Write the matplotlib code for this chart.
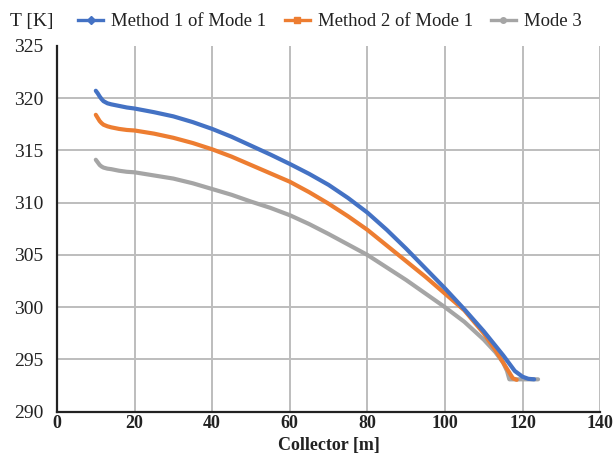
import matplotlib
matplotlib.use("Agg")
import matplotlib.pyplot as plt
from matplotlib.lines import Line2D

# ---- data ----
x_m1 = [10, 10.5, 11, 11.5, 12, 13, 14, 16, 18, 20, 25, 30, 35, 40, 45, 50, 55, 60, 65, 70,
        75, 80, 85, 90, 95, 100, 105, 110, 115, 118, 120, 121.5, 123]
t_m1 = [320.7, 320.45, 320.15, 319.9, 319.7, 319.5, 319.4, 319.25, 319.1, 319.0, 318.65, 318.25,
        317.7, 317.05, 316.3, 315.45, 314.6, 313.7, 312.75, 311.7, 310.45, 309.05, 307.4, 305.6,
        303.7, 301.8, 299.8, 297.7, 295.4, 293.9, 293.35, 293.15, 293.1]

x_m2 = [10, 10.5, 11, 11.5, 12, 13, 14, 16, 18, 20, 25, 30, 35, 40, 45, 50, 55, 60, 65, 70,
        75, 80, 85, 90, 95, 100, 105, 110, 113, 116, 117.5, 118.5]
t_m2 = [318.4, 318.1, 317.8, 317.6, 317.45, 317.3, 317.2, 317.05, 316.95, 316.9, 316.6, 316.2,
        315.7, 315.1, 314.4, 313.6, 312.8, 312.0, 311.0, 309.9, 308.7, 307.4, 305.9, 304.4,
        302.9, 301.3, 299.7, 297.5, 295.9, 294.1, 293.2, 293.05]

x_m3 = [10, 10.5, 11, 11.5, 12, 13, 14, 16, 18, 20, 25, 30, 35, 40, 45, 50, 55, 60, 65, 70,
        75, 80, 85, 90, 95, 100, 105, 110, 113, 115, 116, 116.6, 124]
t_m3 = [314.1, 313.85, 313.6, 313.45, 313.35, 313.25, 313.2, 313.05, 312.95, 312.9, 312.6,
        312.3, 311.85, 311.3, 310.75, 310.1, 309.5, 308.8, 307.95, 307.0, 306.0, 305.0, 303.8,
        302.6, 301.3, 300.0, 298.6, 296.9, 295.7, 294.7, 293.9, 293.1, 293.1]

labels = ["Method 1 of Mode 1", "Method 2 of Mode 1", "Mode 3"]
colors = ["#4472C4", "#ED7D31", "#A5A5A5"]
markers = ["D", "s", "o"]
x_ticks = [0, 20, 40, 60, 80, 100, 120, 140]
y_ticks = [290, 295, 300, 305, 310, 315, 320, 325]

plt.rcParams['font.family'] = ['Liberation Serif', 'DejaVu Serif']

fig = plt.figure(figsize=(6.13, 4.58), dpi=100)
ax = fig.add_axes([0.093, 0.101, 0.886, 0.799])

series = [(x_m1, t_m1), (x_m2, t_m2), (x_m3, t_m3)]
for i in [2, 1, 0]:
    xs, ts = series[i]
    ax.plot(xs, ts, color=colors[i], lw=3.0, solid_capstyle='round',
            solid_joinstyle='round', zorder=3 + (2 - i))

ax.set_xlim(0, 140)
ax.set_ylim(290, 325)
ax.set_xticks(x_ticks)
ax.set_yticks(y_ticks)
ax.grid(True, color='#BDBDBD', lw=1.4)
ax.set_axisbelow(True)
ax.get_ygridlines()[-1].set_visible(False)
for s in ['top', 'right']:
    ax.spines[s].set_visible(False)
for s in ['left', 'bottom']:
    ax.spines[s].set_color('#222222')
    ax.spines[s].set_linewidth(1.6)
ax.tick_params(axis='both', length=0, colors='#222222')
ax.tick_params(axis='y', labelsize=14, pad=10)
ax.tick_params(axis='x', labelsize=13, pad=2)
for lbl in ax.get_xticklabels():
    lbl.set_fontweight('bold')

ax.set_xlabel("Collector [m]", fontsize=13, fontweight='bold', color='#222222', labelpad=4)
fig.text(0.016, 0.953, "T [K]", fontsize=14, color='#222222', va='center', ha='left')

handles = [Line2D([0], [0], color=c, lw=2.4, marker=m, ms=4) for c, m in zip(colors, markers)]
fig.legend(handles, labels, loc='center left', bbox_to_anchor=(0.128, 0.953), ncol=3, frameon=False,
           fontsize=13.5, handlelength=1.33, handletextpad=0.43, columnspacing=0.96,
           borderaxespad=0, borderpad=0, labelcolor='#222222')

fig.savefig("out.png", dpi=100)
